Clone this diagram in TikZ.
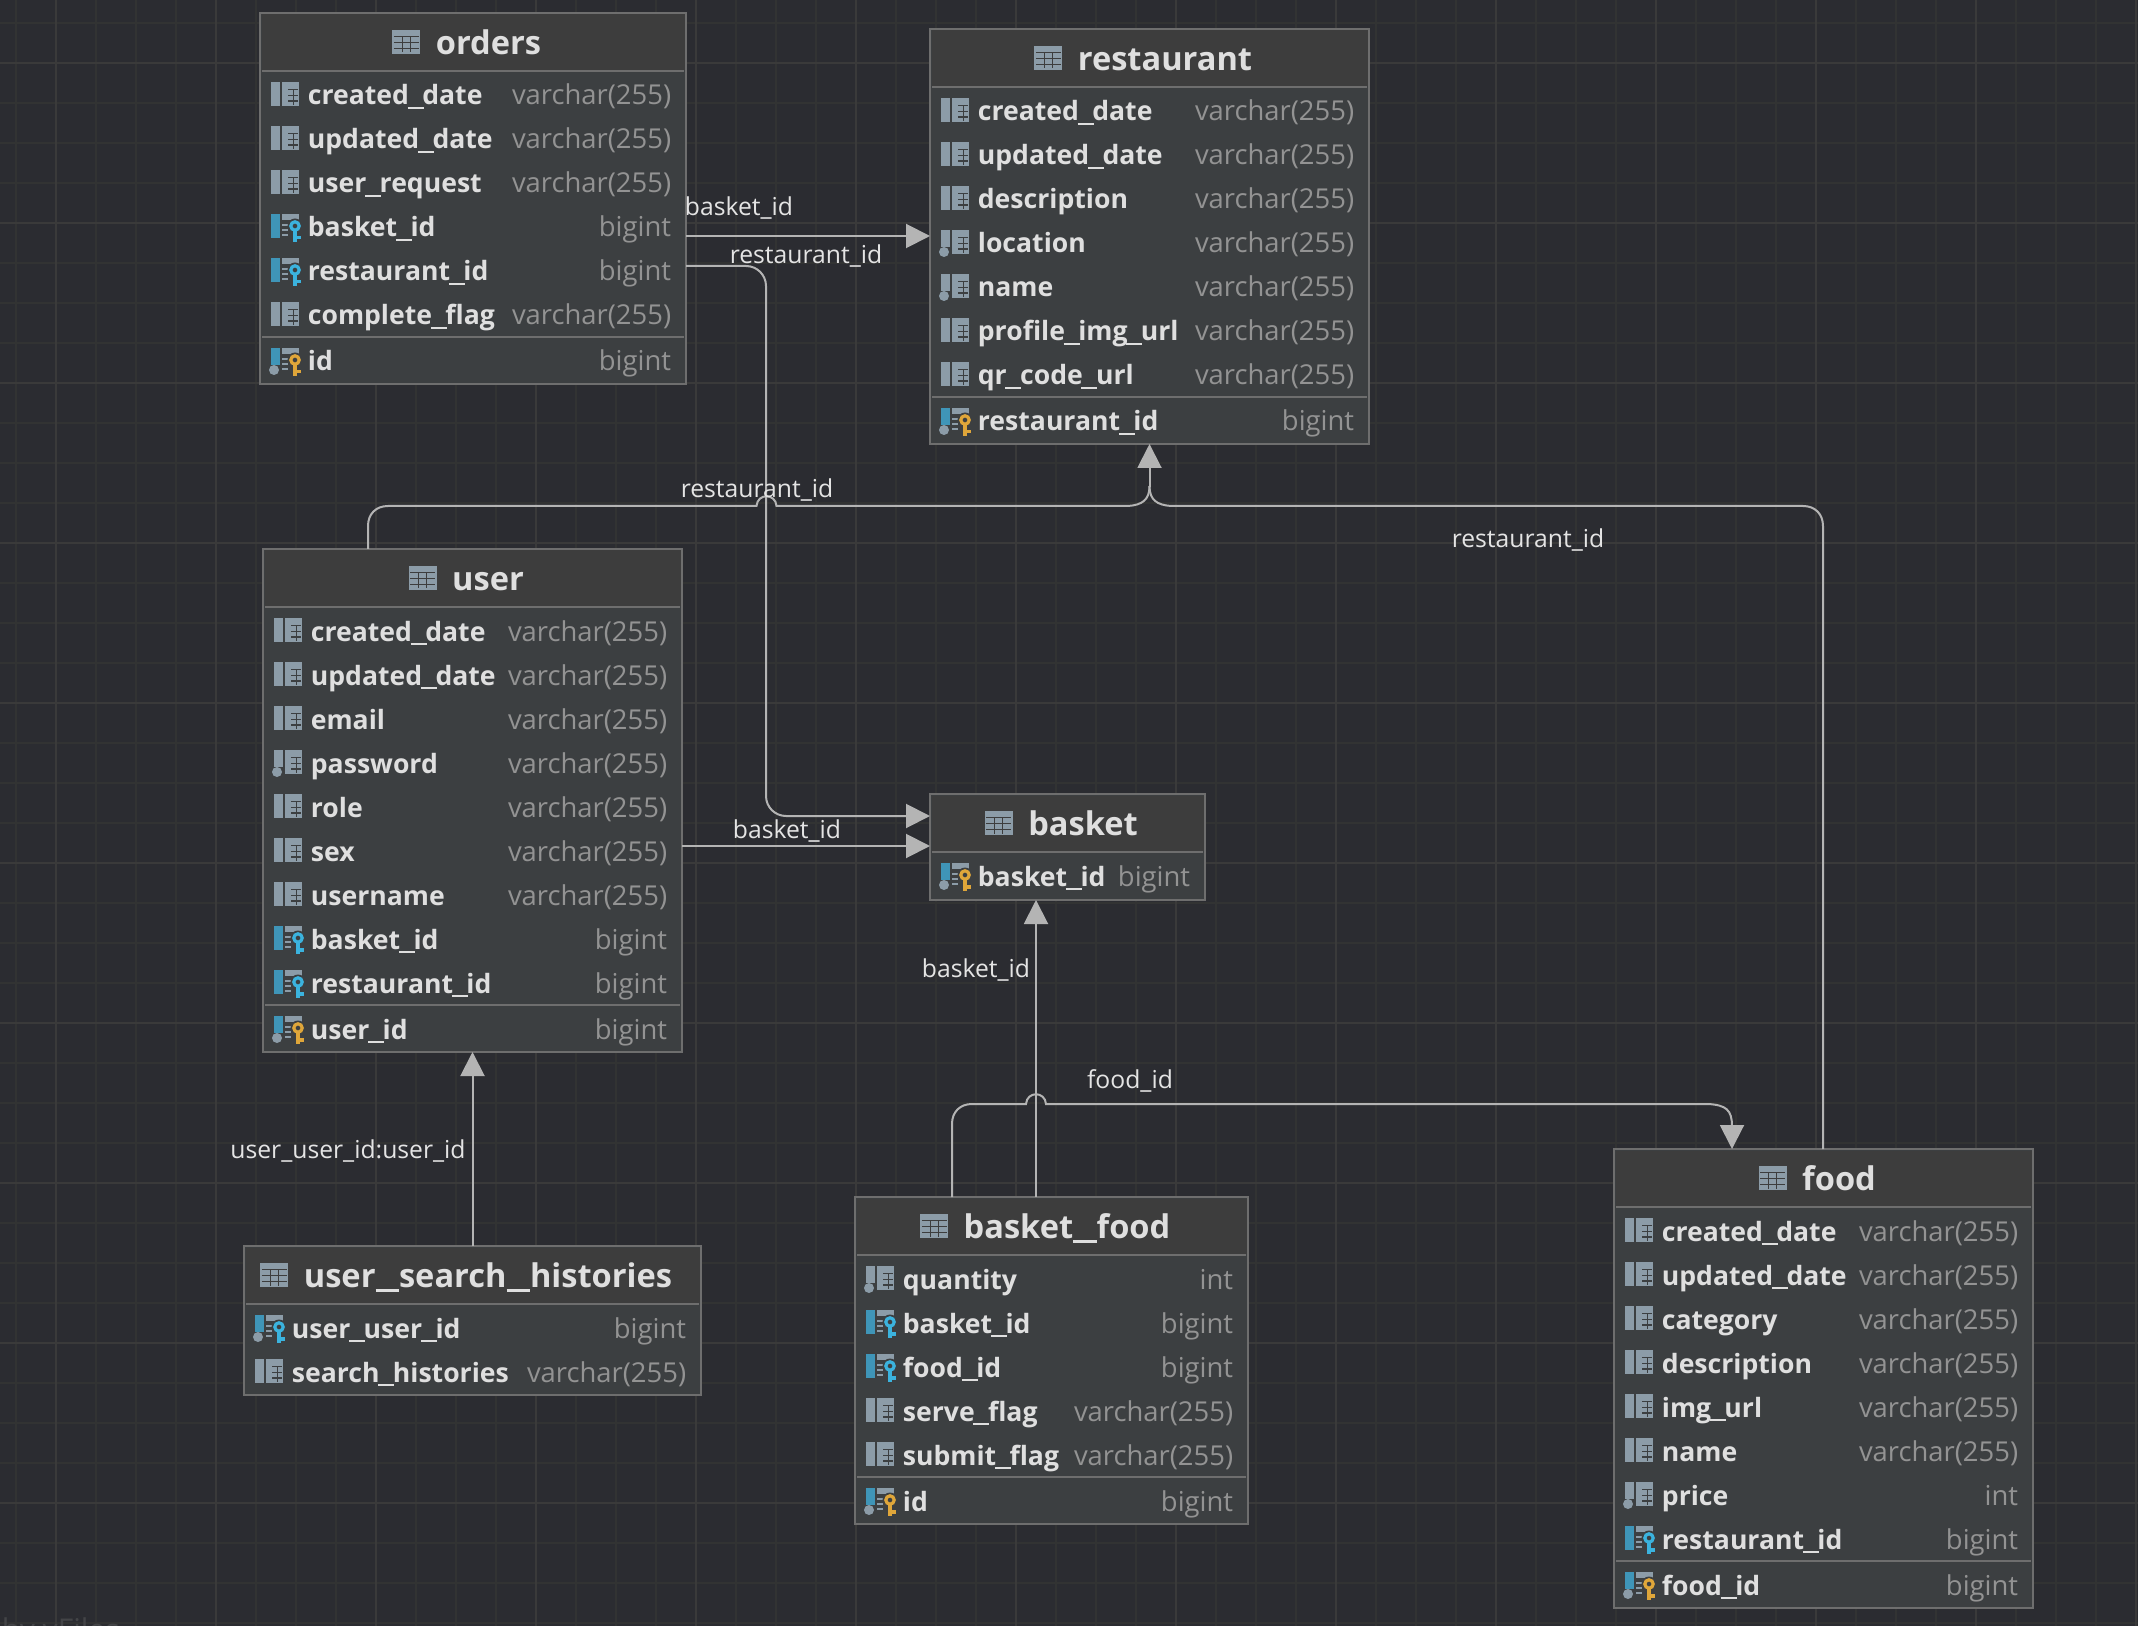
\documentclass[tikz,border=0pt]{standalone}
\usepackage{fontspec}
\setmainfont{Open Sans}
\usetikzlibrary{calc,arrows.meta}
\definecolor{bgc}{HTML}{2B2C31}
\definecolor{gridminor}{HTML}{323333}
\definecolor{gridmajor}{HTML}{3A3A3A}
\definecolor{bodyc}{HTML}{3C3F41}
\definecolor{headc}{HTML}{3D3D3D}
\definecolor{borderc}{HTML}{6E6E6E}
\definecolor{namec}{HTML}{DFDFDF}
\definecolor{typec}{HTML}{939393}
\definecolor{iconc}{HTML}{8C9CA8}
\definecolor{fkbar}{HTML}{3F95B8}
\definecolor{keyb}{HTML}{3BB3DE}
\definecolor{keyg}{HTML}{DFA63A}
\definecolor{linec}{HTML}{B4B4B4}
\definecolor{labelc}{HTML}{E4E4E4}
\definecolor{wm}{HTML}{434447}
\newcommand{\fsz}[1]{\fontsize{#1}{#1}\selectfont}
\newcommand{\us}{\kern-.05em\rule[-.15em]{.6em}{.09em}\kern-.05em}
\newcommand{\tu}{\rule[-.14em]{.72em}{.085em}}
\tikzset{
  x=0.5pt,y=-0.5pt,
  tablebox/.style={draw=borderc,line width=1.1pt,fill=bodyc,inner sep=0pt,outer sep=0pt,anchor=north west},
  titletext/.style={inner sep=0pt,anchor=base,text=namec,font=\bfseries\fsz{16.3}},
  nametext/.style={inner sep=0pt,anchor=base west,text=namec,font=\bfseries\fsz{13.3}},
  typetext/.style={inner sep=0pt,anchor=base east,text=typec,font=\fsz{13.7}},
  linktext/.style={inner sep=0pt,anchor=base,text=labelc,font=\fsz{12.35}},
  link/.style={draw=linec,line width=1pt,rounded corners=10pt},
  plainlink/.style={draw=linec,line width=1pt},
  tip/.style={-{Triangle[length=12pt,width=12pt,color=linec]}},
}
\newcommand{\gridicon}[2]{% left x, row centre y
  \fill[iconc] (#1+11,#2-13) rectangle (#1+28,#2+11);
  \foreach \ya in {-5.5,0.5,6} {\draw[bodyc,line width=0.55pt] (#1+17,#2+\ya) -- (#1+27,#2+\ya);}
  \draw[bodyc,line width=0.55pt] (#1+22.5,#2-5.5) -- (#1+22.5,#2+10);
}
\newcommand{\keyicon}[3]{% left x, row y, colour
  \fill[iconc] (#1+11,#2-13) rectangle (#1+28,#2-7);
  \foreach \ya in {-2,3,8} {\fill[iconc] (#1+11,#2+\ya-0.8) rectangle (#1+17,#2+\ya+0.8);}
  \fill[bodyc] (#1+24,#2-1) circle [radius=7.5];
  \draw[#3,line width=1.6pt] (#1+24,#2-1) circle [radius=4.2];
  \fill[#3] (#1+22,#2+4) rectangle (#1+25.6,#2+15);
  \fill[#3] (#1+25.6,#2+9) rectangle (#1+30,#2+12.5);
}
\newcommand{\dbtable}[6]{% id, L, T, R, B, title
  \node[tablebox,minimum width={(#4-#2)*0.5pt},minimum height={(#5-#3)*0.5pt}] (#1) at (#2,#3) {};
  \fill[headc] ($(#1.north west)+(1.5,1.5)$) rectangle ($(#1.north east)+(-1.5,57)$);
  \draw[borderc,line width=1.1pt] ($(#1.north west)+(2,58)$) -- ($(#1.north east)+(-2,58)$);
  \node[titletext] (#1-title) at ({(#2+#4)/2+15.5},#3+41.5) {#6};
  \coordinate (#1-ic) at ($(#1-title.base west)+(-43,-24.5)$);
  \fill[iconc] (#1-ic) rectangle ($(#1-ic)+(28,24)$);
  \foreach \ya in {6.5,12.5,18.5} {\draw[headc,line width=0.6pt] ($(#1-ic)+(1.5,\ya)$) -- ($(#1-ic)+(26.5,\ya)$);}
  \foreach \xa in {10,18} {\draw[headc,line width=0.6pt] ($(#1-ic)+(\xa,6.5)$) -- ($(#1-ic)+(\xa,22.5)$);}
  \xdef\curL{#2}\xdef\curR{#4}\xdef\curY{\the\numexpr#3+82}\xdef\curT{#1}\xdef\curN{0}
}
\newcommand{\rowtext}[2]{%
  \xdef\curN{\the\numexpr\curN+1}
  \node[nametext] (\curT-n\curN) at (\curL+47.5,\curY+10) {#1};
  \node[typetext] (\curT-t\curN) at (\curR-14.5,\curY+10) {#2};
  \xdef\curY{\the\numexpr\curY+44}
}
\newcommand{\crow}[2]{\gridicon{\curL+11}{\curY}
  \fill[iconc] (\curL+11,\curY-13) rectangle (\curL+20.3,\curY+11);\rowtext{#1}{#2}}
\newcommand{\drow}[2]{\gridicon{\curL+11}{\curY}
  \fill[iconc] (\curL+11,\curY-13) rectangle (\curL+20.3,\curY+4);
  \fill[iconc] (\curL+14,\curY+9) circle [radius=5];\rowtext{#1}{#2}}
\newcommand{\frow}[2]{\keyicon{\curL+11}{\curY}{keyb}
  \fill[fkbar] (\curL+11,\curY-13) rectangle (\curL+20.3,\curY+11);\rowtext{#1}{#2}}
\newcommand{\fdrow}[2]{\keyicon{\curL+11}{\curY}{keyb}
  \fill[fkbar] (\curL+11,\curY-13) rectangle (\curL+20.3,\curY+4);
  \fill[iconc] (\curL+14,\curY+9) circle [radius=5];\rowtext{#1}{#2}}
\newcommand{\sepline}{%
  \draw[borderc,line width=1.1pt] (\curL+2,\curY-22) -- (\curR-2,\curY-22);
  \xdef\curY{\the\numexpr\curY+2}
}
\newcommand{\prow}[2]{\keyicon{\curL+11}{\curY}{keyg}
  \fill[fkbar] (\curL+11,\curY-13) rectangle (\curL+20.3,\curY+4);
  \fill[iconc] (\curL+14,\curY+9) circle [radius=5];\rowtext{#1}{#2}}
\begin{document}
\begin{tikzpicture}
\useasboundingbox (0,0) rectangle (2138,1626);
\clip (0,0) rectangle (2138,1626);
\fill[bgc] (0,0) rectangle (2138,1626);
% grid
\foreach \xg in {16,56,...,2136} {\draw[gridminor,line width=0.6pt] (\xg,0) -- (\xg,1626);}
\foreach \yg in {23,63,...,1623} {\draw[gridminor,line width=0.6pt] (0,\yg) -- (2138,\yg);}
\foreach \xg in {56,216,...,2136} {\draw[gridmajor,line width=0.7pt] (\xg,0) -- (\xg,1626);}
\foreach \yg in {63,223,...,1543} {\draw[gridmajor,line width=0.7pt] (0,\yg) -- (2138,\yg);}
\node[inner sep=0pt,anchor=base east,text=wm,font=\fsz{15}] (wmark) at (120,1640) {d by yFiles};
% tables
\dbtable{orders}{260}{13}{686}{384}{orders}
\crow{created\us date}{varchar(255)}
\crow{updated\us date}{varchar(255)}
\crow{user\us request}{varchar(255)}
\frow{basket\us id}{bigint}
\frow{restaurant\us id}{bigint}
\crow{complete\us flag}{varchar(255)}
\sepline
\prow{id}{bigint}
\dbtable{restaurant}{930}{29}{1369}{444}{restaurant}
\crow{created\us date}{varchar(255)}
\crow{updated\us date}{varchar(255)}
\crow{description}{varchar(255)}
\drow{location}{varchar(255)}
\drow{name}{varchar(255)}
\crow{profile\us img\us url}{varchar(255)}
\crow{qr\us code\us url}{varchar(255)}
\sepline
\prow{restaurant\us id}{bigint}
\dbtable{user}{263}{549}{682}{1052}{user}
\crow{created\us date}{varchar(255)}
\crow{updated\us date}{varchar(255)}
\crow{email}{varchar(255)}
\drow{password}{varchar(255)}
\crow{role}{varchar(255)}
\crow{sex}{varchar(255)}
\crow{username}{varchar(255)}
\frow{basket\us id}{bigint}
\frow{restaurant\us id}{bigint}
\sepline
\prow{user\us id}{bigint}
\dbtable{basket}{930}{794}{1205}{900}{basket}
\prow{basket\us id}{bigint}
\dbtable{bfood}{855}{1197}{1248}{1524}{basket\tu food}
\drow{quantity}{int}
\frow{basket\us id}{bigint}
\frow{food\us id}{bigint}
\crow{serve\us flag}{varchar(255)}
\crow{submit\us flag}{varchar(255)}
\sepline
\prow{id}{bigint}
\dbtable{food}{1614}{1149}{2033}{1608}{food}
\crow{created\us date}{varchar(255)}
\crow{updated\us date}{varchar(255)}
\crow{category}{varchar(255)}
\crow{description}{varchar(255)}
\crow{img\us url}{varchar(255)}
\crow{name}{varchar(255)}
\drow{price}{int}
\frow{restaurant\us id}{bigint}
\sepline
\prow{food\us id}{bigint}
\dbtable{searchh}{244}{1246}{701}{1395}{user\tu search\tu histories}
\fdrow{user\us user\us id}{bigint}
\crow{search\us histories}{varchar(255)}
% jumps and merges
\coordinate (j1) at (766.5,506);
\coordinate (j2) at (1036,1104);
% connectors
\draw[link,tip] ($(orders.north east)+(0,223)$) -- ($(restaurant.north west)+(0,207)$);
\draw[link,tip] ($(orders.north east)+(0,253)$) -| ($(user.north east)+(84,150)$) |- ($(basket.north west)+(0,22)$);
\draw[link,tip] ($(user.north east)+(0,297)$) -- ($(basket.north west)+(0,52)$);
\draw[link,tip] (searchh.north -| user.south) -- (user.south);
\draw[link,tip] ($(bfood.north west)+(181,0)$) -- ($(basket.south west)+(106,0)$);
\draw[plainlink] ($(user.north west)+(105,0)$) -- (368,526) .. controls (368,514) and (376,506) .. (388,506)
  -- ($(j1)+(-10,0)$) .. controls ($(j1)+(-9,-13)$) and ($(j1)+(9,-13)$) .. ($(j1)+(10,0)$)
  -- (1128,506) .. controls (1142,505) and (1149.5,500) .. (1149.5,486);
\draw[plainlink] ($(food.north west)+(209,0)$) -- (1823,526) .. controls (1823,514) and (1815,506) .. (1803,506)
  -- (1171,506) .. controls (1157,505) and (1149.5,500) .. (1149.5,486);
\draw[link,tip] (1149.5,487) -- (restaurant.south);
\draw[plainlink] ($(bfood.north west)+(97,0)$) -- (952,1124) .. controls (952,1112) and (960,1104) .. (972,1104)
  -- ($(j2)+(-10,0)$) .. controls ($(j2)+(-9,-13)$) and ($(j2)+(9,-13)$) .. ($(j2)+(10,0)$)
  -- (1708,1104) .. controls (1726,1105) and (1732,1110) .. (1732,1126);
\draw[link,tip] (1732,1124) -- ($(food.north west)+(118,0)$);
% labels
\node[linktext] (la) at (739,216) {basket\_id};
\node[linktext] (lb) at (806,264) {restaurant\_id};
\node[linktext] (lc) at (757,498) {restaurant\_id};
\node[linktext] (ld) at (1528,548) {restaurant\_id};
\node[linktext] (le) at (787,838) {basket\_id};
\node[linktext] (lf) at (976,977) {basket\_id};
\node[linktext] (lg) at (1130,1088) {food\_id};
\node[linktext] (lh) at (348,1158) {user\_user\_id:user\_id};
\end{tikzpicture}
\end{document}
